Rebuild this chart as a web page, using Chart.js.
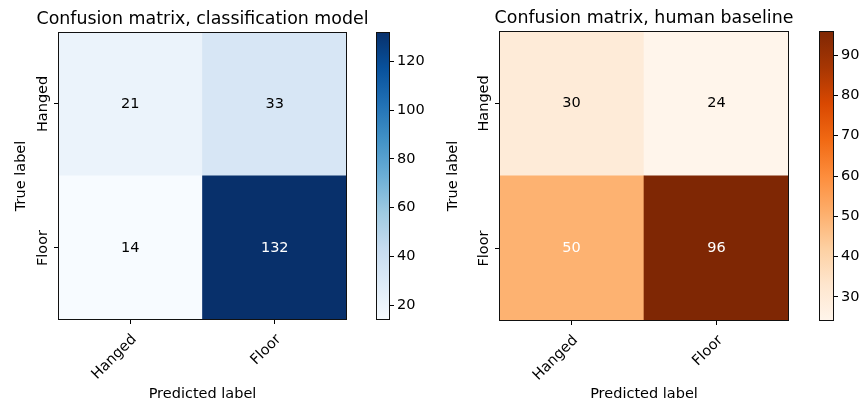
<!DOCTYPE html>
<html>
<head>
<meta charset="utf-8">
<script src="https://cdn.jsdelivr.net/npm/chart.js@4.4.1/dist/chart.umd.min.js"></script>
<style>
body{margin:0;background:#fff;}
#wrap{position:relative;width:865px;height:403px;overflow:hidden;}
canvas{position:absolute;top:0;}
</style>
</head>
<body>
<div id="wrap">
<canvas id="modelChart" width="405" height="403" style="left:0px"></canvas>
<canvas id="modelBar" width="70" height="403" style="left:362px"></canvas>
<canvas id="humanChart" width="424" height="403" style="left:432px"></canvas>
<canvas id="humanBar" width="75" height="403" style="left:790px"></canvas>
</div>
<script>
// data
const classLabels = ["Hanged", "Floor"];
const modelMatrix = [[21, 33], [14, 132]];
const humanMatrix = [[30, 24], [50, 96]];
const modelBarTicks = [20, 40, 60, 80, 100, 120];
const humanBarTicks = [30, 40, 50, 60, 70, 80, 90];

const bluesStops = ["#f7fbff","#deebf7","#c6dbef","#9ecae1","#6baed6","#4292c6","#2171b5","#08519c","#08306b"];
const orangesStops = ["#fff5eb","#fee6ce","#fdd0a2","#fdae6b","#fd8d3c","#f16913","#d94801","#a63603","#7f2704"];

const FS = 14.5;
Chart.defaults.font.family = "'DejaVu Sans', sans-serif";
Chart.defaults.font.size = FS;
Chart.defaults.color = "#000";

function hexRgb(h){
return [parseInt(h.slice(1,3),16),parseInt(h.slice(3,5),16),parseInt(h.slice(5,7),16)];
}

function cmap(stops,t){
t=Math.max(0,Math.min(1,t));
let pos=t*(stops.length-1);
let i=Math.min(Math.floor(pos),stops.length-2);
let f=pos-i;
let a=hexRgb(stops[i]),b=hexRgb(stops[i+1]);
let c=a.map((v,k)=>Math.round(v+(b[k]-v)*f));
return "rgb("+c.join(",")+")";
}

const boxPlugin={
id:"box",
afterDraw(chart){
let ca=chart.chartArea,ctx=chart.ctx;
ctx.save();
ctx.strokeStyle="#111";
ctx.lineWidth=1;
ctx.strokeRect(Math.round(ca.left)+0.5,Math.round(ca.top)+0.5,Math.round(ca.right-ca.left)-1,Math.round(ca.bottom-ca.top)-1);
ctx.restore();
}
};

function matrixChart(id,title,matrix,stops,lay){
let flat=matrix.flat();
let vmin=Math.min(...flat),vmax=Math.max(...flat);
let n=matrix.length;
let datasets=[];
for(let r=n-1;r>=0;r--){
datasets.push({
data:matrix[r].map(()=>1),
backgroundColor:matrix[r].map(v=>cmap(stops,(v-vmin)/(vmax-vmin))),
borderWidth:0,
categoryPercentage:1,
barPercentage:1
});
}

const cellText={
id:"cellText",
afterDatasetsDraw(chart){
let xs=chart.scales.x,ys=chart.scales.y,ctx=chart.ctx;
ctx.save();
ctx.font=FS+"px 'DejaVu Sans'";
ctx.textAlign="center";
ctx.textBaseline="middle";
matrix.forEach((row,r)=>{
row.forEach((v,c)=>{
ctx.fillStyle=v>vmax/2?"#fff":"#000";
ctx.fillText(String(v),xs.getPixelForValue(c),ys.getPixelForValue(n-r-0.5));
});
});
ctx.restore();
}
};

return new Chart(document.getElementById(id),{
type:"bar",
data:{labels:classLabels,datasets:datasets},
options:{
responsive:false,
devicePixelRatio:1,
animation:false,
events:[],
layout:{padding:0},
plugins:{
legend:{display:false},
tooltip:{enabled:false},
title:{
display:true,
text:title,
font:{size:17.4,weight:"normal"},
color:"#000",
padding:{top:lay.titleTop,bottom:2}
}
},
scales:{
x:{
type:"category",
stacked:true,
offset:true,
ticks:{minRotation:45,maxRotation:45,autoSkip:false,padding:7,labelOffset:4},
grid:{offset:false,drawOnChartArea:false,drawTicks:true,tickLength:4,color:"#000"},
border:{display:false},
title:{display:true,text:"Predicted label",padding:{top:0,bottom:0}},
afterFit(s){s.height=lay.xHeight;s.paddingLeft=0;s.paddingRight=0;}
},
y:{
type:"linear",
stacked:true,
min:0,
max:n,
afterBuildTicks(s){s.ticks=classLabels.map((_,i)=>({value:i+0.5}));},
ticks:{
callback:v=>classLabels[n-1-Math.floor(v)],
minRotation:90,
maxRotation:90,
crossAlign:"center",
padding:-17.5
},
grid:{drawOnChartArea:false,drawTicks:true,tickLength:4,color:"#000"},
border:{display:false},
title:{display:true,text:"True label",padding:{top:12.2,bottom:0}},
afterFit(s){s.width=lay.yWidth;}
},
// empty mirror axis so the title centres over the matrix
y2:{
type:"linear",
position:"right",
grid:{display:false},
ticks:{display:false},
border:{display:false},
afterFit(s){s.width=lay.yWidth;}
}
}
},
plugins:[cellText,boxPlugin]
});
}

function colorBar(id,matrix,stops,tickVals,lay){
let flat=matrix.flat();
let vmin=Math.min(...flat),vmax=Math.max(...flat);
return new Chart(document.getElementById(id),{
type:"bar",
data:{
labels:[""],
datasets:[{
data:[[vmin,vmax]],
borderWidth:0,
categoryPercentage:1,
barPercentage:1,
backgroundColor(ctx){
let ca=ctx.chart.chartArea;
if(!ca)return null;
let g=ctx.chart.ctx.createLinearGradient(0,ca.bottom,0,ca.top);
stops.forEach((s,i)=>g.addColorStop(i/(stops.length-1),s));
return g;
}
}]
},
options:{
responsive:false,
devicePixelRatio:1,
animation:false,
events:[],
layout:{padding:{left:lay.left,right:0,top:lay.top,bottom:lay.bottom}},
plugins:{legend:{display:false},tooltip:{enabled:false}},
scales:{
x:{display:false},
y:{
position:"right",
min:vmin,
max:vmax,
afterBuildTicks(s){s.ticks=tickVals.map(v=>({value:v}));},
ticks:{padding:3},
grid:{drawOnChartArea:false,drawTicks:true,tickLength:4,color:"#000"},
border:{display:false},
afterFit(s){s.width=lay.width;}
}
}
},
plugins:[boxPlugin]
});
}

matrixChart("modelChart","Confusion matrix, classification model",modelMatrix,bluesStops,
{titleTop:9,xHeight:83,yWidth:58});
colorBar("modelBar",modelMatrix,bluesStops,modelBarTicks,{left:14,top:32,bottom:83,width:42});

matrixChart("humanChart","Confusion matrix, human baseline",humanMatrix,orangesStops,
{titleTop:8,xHeight:82,yWidth:67});
colorBar("humanBar",humanMatrix,orangesStops,humanBarTicks,{left:29,top:31,bottom:82,width:31});
</script>
</body>
</html>
